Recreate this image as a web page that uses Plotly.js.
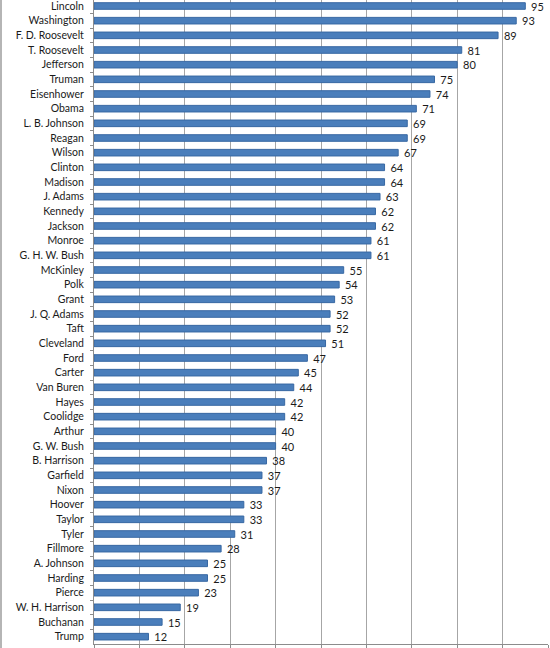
<!DOCTYPE html>
<html>
<head>
<meta charset="utf-8">
<script src="https://cdn.plot.ly/plotly-3.0.1.min.js"></script>
<style>
  html, body { margin: 0; padding: 0; background: #fff; }
  #chart { width: 548px; height: 648px; border-left: 2px solid #b5b5b5; }
</style>
</head>
<body>
<div id="chart"></div>
<script>
// presidents, ranked top to bottom
const presidents = [
  "Lincoln", "Washington", "F. D. Roosevelt", "T. Roosevelt", "Jefferson",
  "Truman", "Eisenhower", "Obama", "L. B. Johnson", "Reagan", "Wilson",
  "Clinton", "Madison", "J. Adams", "Kennedy", "Jackson", "Monroe",
  "G. H. W. Bush", "McKinley", "Polk", "Grant", "J. Q. Adams", "Taft",
  "Cleveland", "Ford", "Carter", "Van Buren", "Hayes", "Coolidge", "Arthur",
  "G. W. Bush", "B. Harrison", "Garfield", "Nixon", "Hoover", "Taylor",
  "Tyler", "Fillmore", "A. Johnson", "Harding", "Pierce", "W. H. Harrison",
  "Buchanan", "Trump"
];
const scores = [
  95, 93, 89, 81, 80, 75, 74, 71, 69, 69, 67, 64, 64, 63, 62, 62, 61, 61,
  55, 54, 53, 52, 52, 51, 47, 45, 44, 42, 42, 40, 40, 38, 37, 37, 33, 33,
  31, 28, 25, 25, 23, 19, 15, 12
];
const xRange = [0, 100];
const gridStep = 10;

const trace = {
  type: "bar",
  orientation: "h",
  x: scores,
  y: presidents,
  text: scores.map((v) => " " + v),
  textposition: "outside",
  constraintext: "none",
  cliponaxis: false,
  textfont: { family: "Lato, sans-serif", size: 11, color: "#1a1a1a" },
  marker: {
    color: "#4a7ebb",
    line: { color: "#3868a3", width: 1 },
  },
  hoverinfo: "x+y",
};

const layout = {
  width: 548,
  height: 648,
  margin: { l: 92, r: 2, t: 0, b: 4, pad: 0 },
  paper_bgcolor: "#fff",
  plot_bgcolor: "#fff",
  bargap: 0.55,
  showlegend: false,
  font: { family: "Lato, sans-serif", size: 10.5, color: "#1a1a1a" },
  xaxis: {
    range: xRange,
    dtick: gridStep,
    showgrid: true,
    gridcolor: "#a6a6a6",
    gridwidth: 1,
    zeroline: false,
    showline: true,
    linecolor: "#8c8c8c",
    ticks: "outside",
    ticklen: 4,
    tickcolor: "#8c8c8c",
    showticklabels: false,
  },
  yaxis: {
    type: "category",
    range: [presidents.length - 0.5, -0.41],
    showline: true,
    linecolor: "#8c8c8c",
    ticks: "outside",
    tickson: "boundaries",
    ticklen: 3,
    tickcolor: "#8c8c8c",
    showgrid: false,
    zeroline: false,
    ticklabelstandoff: 7,
  },
};

Plotly.newPlot("chart", [trace], layout, { staticPlot: true });
</script>
</body>
</html>
